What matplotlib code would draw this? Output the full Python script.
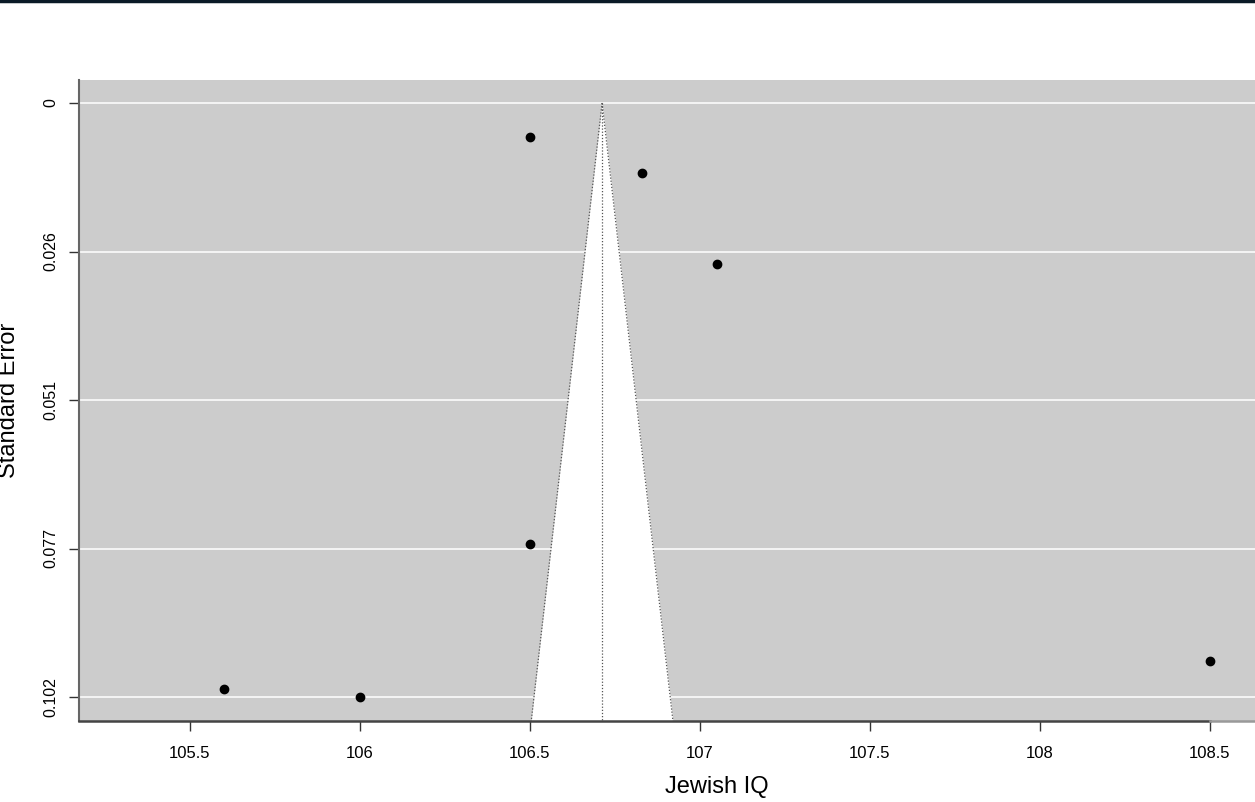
import numpy as np
import matplotlib.pyplot as plt
from matplotlib.lines import Line2D

plt.rcParams['font.family'] = ['Liberation Sans', 'DejaVu Sans']

# study estimates (Jewish IQ) and their standard errors
iq = [106.5, 106.83, 107.05, 106.5, 105.6, 106.0, 108.5]
se = [0.00585, 0.01204, 0.0277, 0.07588, 0.10082, 0.1022, 0.0960]
pooled = 106.712

se_max = max(se)
ytick_vals = [se_max * k / 4 for k in range(5)]
ytick_labels = ['0', '0.026', '0.051', '0.077', '0.102']
xtick_vals = [105.5, 106, 106.5, 107, 107.5, 108, 108.5]
xtick_labels = ['105.5', '106', '106.5', '107', '107.5', '108', '108.5']

W, H = 1255, 802
fig = plt.figure(figsize=(W / 100, H / 100), dpi=100)

# axes extends past the right edge of the picture (cropped like the original)
left, right, top, bottom = 79, 1355, 80, 721
ax = fig.add_axes([left / W, 1 - bottom / H, (right - left) / W, (bottom - top) / H])

px_per_unit = 340.0
x0 = 105.5 - (190 - left) / px_per_unit
x1 = 105.5 + (right - 190) / px_per_unit
y_scale = (697 - 103) / se_max
y_top = -(103 - top) / y_scale
y_bot = se_max + (bottom - 697) / y_scale

ax.set_xlim(x0, x1)
ax.set_ylim(y_bot, y_top)
ax.set_facecolor('#cccccc')

# grid lines
for yv in ytick_vals:
    ax.axhline(yv, color='white', lw=1.1, zorder=1)

# funnel
se_line = np.array([0, y_bot])
ax.fill_betweenx(se_line, pooled - 1.96 * se_line, pooled + 1.96 * se_line,
                 color='white', zorder=2, lw=0)
ax.plot(pooled - 1.96 * se_line, se_line, ls=(0, (1, 1.5)), color='#555555', lw=0.9, zorder=3)
ax.plot(pooled + 1.96 * se_line, se_line, ls=(0, (1, 1.5)), color='#555555', lw=0.9, zorder=3)
ax.plot([pooled, pooled], [0, y_bot], ls=(0, (1, 1.5)), color='#555555', lw=0.9, zorder=3)

ax.scatter(iq, se, s=36, color='black', zorder=5, clip_on=False)

ax.set_xticks(xtick_vals)
ax.set_xticklabels(xtick_labels, fontsize=12)
ax.set_yticks(ytick_vals)
ax.set_yticklabels(ytick_labels, fontsize=11.5, rotation=90, va='center')
ax.tick_params(axis='both', length=7, width=1, color='#333333')
ax.tick_params(axis='x', pad=11)
ax.tick_params(axis='y', pad=8)

for s in ['top', 'right', 'bottom']:
    ax.spines[s].set_visible(False)
ax.spines['left'].set_color('#666666')
ax.spines['left'].set_linewidth(1.5)

# bottom axis line: dark up to last tick, lighter beyond
ax.plot([x0, 108.5], [y_bot, y_bot], color='#444444', lw=1.8, clip_on=False, zorder=6)
ax.plot([108.5, x1], [y_bot, y_bot], color='#999999', lw=1.8, clip_on=False, zorder=6)

fig.text(717 / W, 1 - 787 / H, 'Jewish IQ', fontsize=17, ha='center', va='center')
fig.text(9 / W, 1 - 400 / H, 'Standard Error', fontsize=17, ha='center', va='center', rotation=90)

# thin dark line across the top edge
fig.add_artist(Line2D([0, 1], [1 - 1 / H, 1 - 1 / H], transform=fig.transFigure,
                      color='#0a1a26', lw=2.5))

fig.savefig('out.png', dpi=100)
